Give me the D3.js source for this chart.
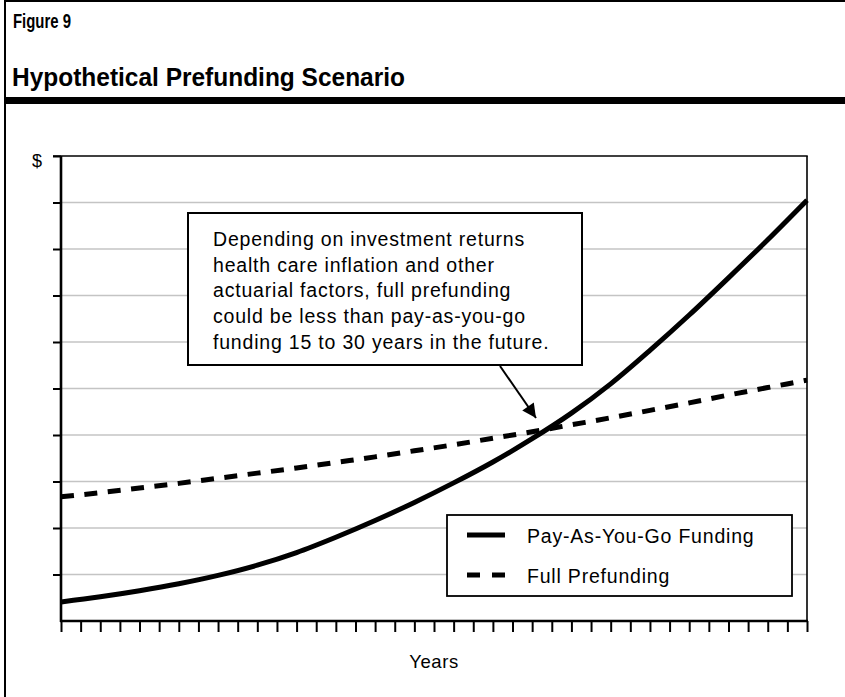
<!DOCTYPE html>
<html>
<head>
<meta charset="utf-8">
<script src="https://cdn.jsdelivr.net/npm/d3@7"></script>
<style>
  html, body { margin: 0; padding: 0; background: #fff; }
  svg { display: block; }
  text { font-family: "Liberation Sans", Arial, Helvetica, sans-serif; fill: #000; }
</style>
</head>
<body>
<svg id="chart" width="845" height="697"></svg>
<script>
// ---- data ----
const years = [0, 2, 4, 6, 8, 10, 12, 14, 16, 18, 20, 22, 24, 26, 28, 30, 32, 34, 36, 38];
const payGo = [0.41, 0.52, 0.65, 0.80, 0.98, 1.20, 1.47, 1.80, 2.16, 2.55, 2.97, 3.42, 3.92, 4.47, 5.10, 5.82, 6.58, 7.38, 8.20, 9.05];
const prefund = [2.67, 2.76, 2.86, 2.96, 3.07, 3.18, 3.29, 3.41, 3.53, 3.66, 3.79, 3.93, 4.07, 4.22, 4.37, 4.53, 4.69, 4.86, 5.02, 5.18];
const xTickValues = d3.range(0, 39);          // one tick per year
const yTickValues = [1, 2, 3, 4, 5, 6, 7, 8, 9, 10];
const seriesNames = ["Pay-As-You-Go Funding", "Full Prefunding"];
const figureLabel = "Figure 9";
const titleText = "Hypothetical Prefunding Scenario";
const noteLines = [
  "Depending on investment returns",
  "health care inflation and other",
  "actuarial factors, full prefunding",
  "could be less than pay-as-you-go",
  "funding 15 to 30 years in the future."
];

const svg = d3.select("#chart");

// ---- outer figure frame ----
svg.append("line").attr("x1", 5).attr("x2", 5).attr("y1", 0).attr("y2", 697)
  .attr("stroke", "#000").attr("stroke-width", 2);
svg.append("line").attr("x1", 4).attr("x2", 845).attr("y1", 1).attr("y2", 1)
  .attr("stroke", "#000").attr("stroke-width", 2);
svg.append("rect").attr("x", 4).attr("y", 97).attr("width", 841).attr("height", 7).attr("fill", "#000");

svg.append("text").attr("x", 13).attr("y", 28)
  .attr("textLength", 58).attr("lengthAdjust", "spacingAndGlyphs")
  .style("font-size", "19.5px").style("font-weight", "bold").text(figureLabel);
svg.append("text").attr("x", 12).attr("y", 86)
  .attr("textLength", 393).attr("lengthAdjust", "spacingAndGlyphs")
  .style("font-size", "25px").style("font-weight", "bold").text(titleText);

// ---- scales ----
const x = d3.scaleLinear().domain([0, 38]).range([61, 807]);
const y = d3.scaleLinear().domain([0, 10]).range([621, 156]);

// gridlines
svg.append("g").selectAll("line").data(yTickValues.filter(v => v < 10)).join("line")
  .attr("x1", x(0)).attr("x2", x(38))
  .attr("y1", d => y(d)).attr("y2", d => y(d))
  .attr("stroke", "#c4c4c4").attr("stroke-width", 1.6);

// frame top & right
svg.append("line").attr("x1", 53).attr("x2", x(38) + 0.75).attr("y1", y(10)).attr("y2", y(10))
  .attr("stroke", "#000").attr("stroke-width", 1.6);
svg.append("line").attr("x1", x(38)).attr("x2", x(38)).attr("y1", y(10)).attr("y2", y(0))
  .attr("stroke", "#000").attr("stroke-width", 1.6);

// y axis
const yAxis = d3.axisLeft(y).tickValues(yTickValues).tickSize(8).tickFormat("");
const gy = svg.append("g").attr("transform", `translate(${x(0)},0)`).call(yAxis);
gy.select(".domain").attr("stroke", "#000").attr("stroke-width", 2.6).attr("d", `M0,${y(10)}V${y(0) + 1}`);
gy.selectAll(".tick line").attr("stroke", "#000").attr("stroke-width", 2);

// x axis
const xAxis = d3.axisBottom(x).tickValues(xTickValues).tickSize(11).tickFormat("");
const gx = svg.append("g").attr("transform", `translate(0,${y(0)})`).call(xAxis);
gx.select(".domain").attr("stroke", "#000").attr("stroke-width", 2.6).attr("d", `M${x(0) - 1},0H${x(38) + 1}`);
gx.selectAll(".tick line").attr("stroke", "#000").attr("stroke-width", 2);

// axis labels
svg.append("text").attr("x", 37).attr("y", 167).attr("text-anchor", "middle")
  .style("font-size", "18px").text("$");
svg.append("text").attr("x", (x(0) + x(38)) / 2).attr("y", 668).attr("text-anchor", "middle")
  .style("font-size", "18.5px").style("letter-spacing", "0.6px").text("Years");

// ---- lines ----
const line = d3.line().x((d, i) => x(years[i])).y(d => y(d)).curve(d3.curveMonotoneX);
svg.append("path").datum(prefund).attr("d", line)
  .attr("fill", "none").attr("stroke", "#000").attr("stroke-width", 5)
  .attr("stroke-dasharray", "13,10.5");
svg.append("path").datum(payGo).attr("d", line)
  .attr("fill", "none").attr("stroke", "#000").attr("stroke-width", 5);

// ---- annotation ----
svg.append("rect").attr("x", 188).attr("y", 213).attr("width", 394).attr("height", 152)
  .attr("fill", "#fff").attr("stroke", "#000").attr("stroke-width", 2);
svg.append("g").selectAll("text").data(noteLines).join("text")
  .attr("x", 213).attr("y", (d, i) => 246 + i * 25.7)
  .style("font-size", "19.5px").style("letter-spacing", "0.8px").text(d => d);

svg.append("defs").append("marker").attr("id", "arrow")
  .attr("viewBox", "0 0 10 10").attr("refX", 10).attr("refY", 5)
  .attr("markerWidth", 16).attr("markerHeight", 14).attr("markerUnits", "userSpaceOnUse")
  .attr("orient", "auto")
  .append("path").attr("d", "M0,0L10,5L0,10z").attr("fill", "#000");
svg.append("line").attr("x1", 500).attr("y1", 366).attr("x2", 536).attr("y2", 418)
  .attr("stroke", "#000").attr("stroke-width", 2).attr("marker-end", "url(#arrow)");

// ---- legend ----
const lg = svg.append("g");
lg.append("rect").attr("x", 447).attr("y", 515).attr("width", 345).attr("height", 81)
  .attr("fill", "#fff").attr("stroke", "#000").attr("stroke-width", 1.8);
const legendRows = [{name: seriesNames[0], dash: null, yy: 535}, {name: seriesNames[1], dash: "13,12", yy: 575}];
legendRows.forEach(r => {
  const ln = lg.append("line").attr("x1", 467).attr("x2", 505).attr("y1", r.yy).attr("y2", r.yy)
    .attr("stroke", "#000").attr("stroke-width", 5);
  if (r.dash) ln.attr("stroke-dasharray", r.dash);
  lg.append("text").attr("x", 527).attr("y", r.yy + 7.5)
    .style("font-size", "19.5px").style("letter-spacing", "0.8px").text(r.name);
});
</script>
</body>
</html>
